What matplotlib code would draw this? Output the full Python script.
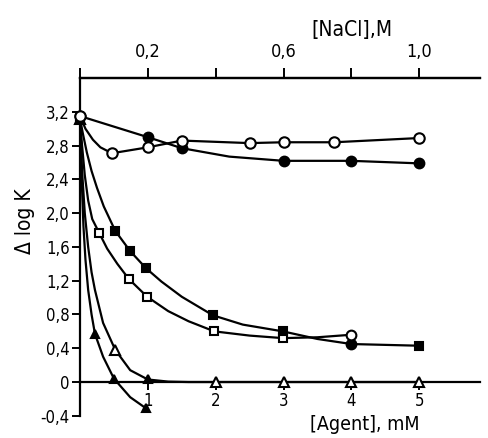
import matplotlib
matplotlib.use("Agg")
import matplotlib.pyplot as plt
from matplotlib import font_manager as fm

# narrow font if one is installed, else plain DejaVu Sans
_fonts = fm.fontManager.ttflist
_names = {f.name for f in _fonts}
if 'Liberation Sans Narrow' in _names:
    plt.rcParams['font.family'] = ['Liberation Sans Narrow', 'DejaVu Sans']
else:
    plt.rcParams['font.family'] = ['DejaVu Sans']
    if any(f.name == 'DejaVu Sans' and str(f.stretch) == 'condensed' for f in _fonts):
        plt.rcParams['font.stretch'] = 'condensed'

# --- measured points (x = [Agent] mM, y = delta log K) ---
# open circles (top curve)
oc_x = [0, 0.47, 1.0, 1.5, 2.5, 3.0, 3.75, 5.0]
oc_y = [3.15, 2.71, 2.78, 2.86, 2.83, 2.84, 2.84, 2.89]
oc_line_x = [0, 0.08, 0.19, 0.3, 0.47, 1.0, 1.5, 2.5, 3.0, 3.75, 5.0]
oc_line_y = [3.15, 3.0, 2.87, 2.78, 2.71, 2.78, 2.86, 2.83, 2.84, 2.84, 2.89]

# filled circles
fc_x = [0, 1.0, 1.5, 3.0, 4.0, 5.0]
fc_y = [3.15, 2.90, 2.77, 2.62, 2.62, 2.59]
fc_line_x = [0, 1.0, 1.5, 2.2, 3.0, 4.0, 5.0]
fc_line_y = [3.15, 2.90, 2.77, 2.67, 2.62, 2.62, 2.59]

# filled squares
fs_x = [0, 0.52, 0.74, 0.97, 1.96, 2.99, 5.0]
fs_y = [3.12, 1.79, 1.55, 1.35, 0.79, 0.60, 0.43]
fs_fit_x = [0, 0.04, 0.1, 0.17, 0.25, 0.35, 0.52, 0.74, 0.97, 1.2, 1.5,
            1.96, 2.4, 2.99, 3.5, 4.0, 4.5, 5.0]
fs_fit_y = [3.12, 2.95, 2.72, 2.5, 2.3, 2.08, 1.79, 1.55, 1.35, 1.19, 1.01,
            0.79, 0.68, 0.60, 0.51, 0.45, 0.44, 0.43]

# open squares
os_x = [0, 0.28, 0.72, 0.99, 1.98, 2.99]
os_y = [3.12, 1.77, 1.22, 1.01, 0.60, 0.52]
os_fit_x = [0, 0.03, 0.07, 0.12, 0.18, 0.28, 0.4, 0.55, 0.72, 0.99, 1.3,
            1.6, 1.98, 2.5, 2.99, 3.5, 4.0]
os_fit_y = [3.12, 2.8, 2.45, 2.15, 1.93, 1.77, 1.58, 1.40, 1.22, 1.01, 0.84,
            0.72, 0.60, 0.55, 0.52, 0.53, 0.56]

# extra markers at 4 mM
fc4_x = [4.0]
fc4_y = [0.45]
oc4_x = [4.0]
oc4_y = [0.56]

# open triangles
ot_x = [0, 0.52, 2, 3, 4, 5]
ot_y = [3.12, 0.38, 0, 0, 0, 0]
ot_fit_x = [0, 0.03, 0.07, 0.12, 0.17, 0.22, 0.34, 0.52, 0.74, 1.0, 1.3, 1.6, 2, 5]
ot_fit_y = [3.12, 2.5, 2.0, 1.6, 1.3, 1.09, 0.70, 0.38, 0.14, 0.03, 0.005, 0, 0, 0]

# filled triangles
ft_x = [0, 0.22, 0.5, 0.97, 1.0]
ft_y = [3.12, 0.57, 0.04, -0.31, 0.03]
ft_fit_x = [0, 0.02, 0.05, 0.08, 0.12, 0.17, 0.22, 0.34, 0.5, 0.74, 0.97]
ft_fit_y = [3.12, 2.5, 1.85, 1.45, 1.09, 0.8, 0.57, 0.30, 0.04, -0.18, -0.31]

y_ticks = [-0.4, 0, 0.4, 0.8, 1.2, 1.6, 2.0, 2.4, 2.8, 3.2]
y_labels = ['-0,4', '0', '0,4', '0,8', '1,2', '1,6', '2,0', '2,4', '2,8', '3,2']
x_ticks = [1, 2, 3, 4, 5]
nacl_ticks = [0, 0.2, 0.4, 0.6, 0.8, 1.0]
nacl_labels = ['', '0,2', '', '0,6', '', '1,0']

fig = plt.figure(figsize=(4.88, 4.38), dpi=100)
ax = fig.add_axes([0.164, 0.0507, 0.820, 0.771])
ax.set_xlim(0, 5.9)
ax.set_ylim(-0.4, 3.6)

lw = 1.6
ax.plot(oc_line_x, oc_line_y, color='black', lw=lw)
ax.plot(fc_line_x, fc_line_y, color='black', lw=lw)
ax.plot(fs_fit_x, fs_fit_y, color='black', lw=lw)
ax.plot(os_fit_x, os_fit_y, color='black', lw=lw)
ax.plot(ot_fit_x, ot_fit_y, color='black', lw=lw)
ax.plot(ft_fit_x, ft_fit_y, color='black', lw=lw)

kw = dict(ls='none', mec='black', mew=1.5, clip_on=False, zorder=5)
ax.plot(ft_x, ft_y, marker='^', ms=6, mfc='black', **kw)
ax.plot(ot_x, ot_y, marker='^', ms=7, mfc='white', **kw)
ax.plot(os_x, os_y, marker='s', ms=6, mfc='white', **kw)
ax.plot(fs_x, fs_y, marker='s', ms=6, mfc='black', **kw)
ax.plot(fc4_x, fc4_y, marker='o', ms=7, mfc='black', **kw)
ax.plot(oc4_x, oc4_y, marker='o', ms=7, mfc='white', **kw)
ax.plot(fc_x, fc_y, marker='o', ms=7, mfc='black', **kw)
ax.plot(oc_x, oc_y, marker='o', ms=7.5, mfc='white', **kw)

ax.spines['right'].set_visible(False)
ax.spines['bottom'].set_position(('data', 0))
for s in ['left', 'bottom', 'top']:
    ax.spines[s].set_linewidth(1.6)

ax.set_xticks(x_ticks)
ax.set_xticklabels([str(t) for t in x_ticks])
ax.set_yticks(y_ticks)
ax.set_yticklabels(y_labels)
ax.tick_params(axis='both', direction='out', length=6, width=1.4,
               labelsize=12, top=False, right=False)
ax.tick_params(axis='y', pad=1.5)
ax.tick_params(axis='x', pad=1.5)

sec = ax.secondary_xaxis('top', functions=(lambda x: x / 5, lambda x: x * 5))
sec.set_xticks(nacl_ticks)
sec.set_xticklabels(nacl_labels)
sec.tick_params(direction='out', length=7, width=1.4, labelsize=13, pad=5)
sec.spines['top'].set_linewidth(1.6)

fig.text(352 / 488, 1 - 30 / 438, '[NaCl],M', ha='center', va='center',
         fontsize=15)
fig.text(365 / 488, 1 - 424 / 438, '[Agent], mM', ha='center', va='center',
         fontsize=14)
fig.text(25 / 488, 1 - 221 / 438, 'Δ log K', ha='center', va='center',
         rotation=90, fontsize=15)

fig.savefig('out.png', dpi=100)
